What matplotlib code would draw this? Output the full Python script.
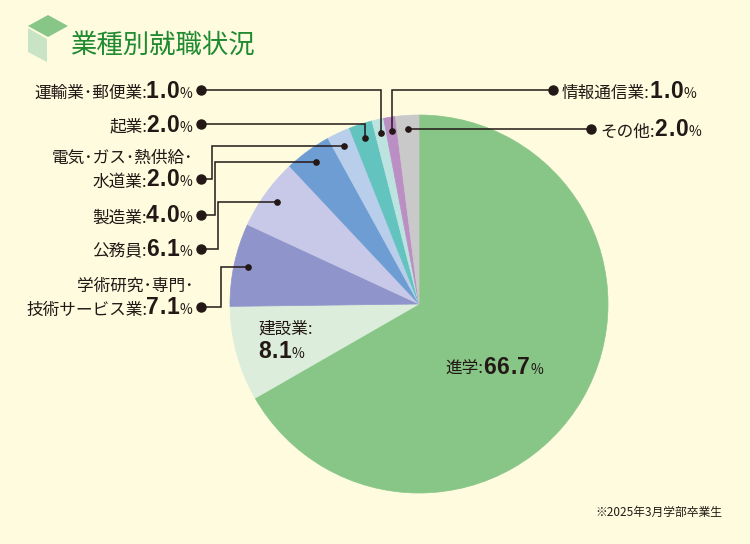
import matplotlib
matplotlib.use("Agg")
import matplotlib.pyplot as plt
from matplotlib.patches import Polygon
import numpy as np

# data
categories = ["進学", "建設業", "学術研究・専門・技術サービス業", "公務員", "製造業",
              "電気・ガス・熱供給・水道業", "起業", "運輸業・郵便業", "情報通信業", "その他"]
values = [66.7, 8.1, 7.1, 6.1, 4.0, 2.0, 2.0, 1.0, 1.0, 2.0]
colors = ["#88C687", "#DCEEDB", "#8F95CB", "#C8C9E8", "#6E9DD4",
          "#B9CEEB", "#63C3BE", "#BDE3E0", "#BB8EC4", "#C9C9C9"]
label_lines = {
    "学術研究・専門・技術サービス業": ["学術研究・専門・", "技術サービス業:"],
    "電気・ガス・熱供給・水道業": ["電気・ガス・熱供給・", "水道業:"],
}
title = "業種別就職状況"
note = "※2025年3月学部卒業生"

W, H = 750, 544
BG = "#FEFBDF"
INK = "#231815"
JP = "Noto Sans CJK JP"
NUM = "Liberation Sans"

name_kw = dict(fontfamily=JP, fontsize=12, color=INK)
num_kw = dict(fontfamily=NUM, fontsize=16.5, fontweight="bold", color=INK)
pct_kw = dict(fontfamily=JP, fontsize=10, color=INK)

fig = plt.figure(figsize=(7.5, 5.44), dpi=100)
fig.patch.set_facecolor(BG)
ax = fig.add_axes([0, 0, 1, 1])
ax.set_facecolor(BG)

cx, cy, R = 419, 304, 189
wedges, _ = ax.pie(values, colors=colors, startangle=90, counterclock=False,
                   radius=R, center=(cx, H - cy))
for w in wedges:
    w.set_edgecolor(w.get_facecolor())
    w.set_linewidth(0.5)

ax.set_xlim(0, W)
ax.set_ylim(0, H)
ax.set_aspect("auto")
ax.axis("off")

renderer = fig.canvas.get_renderer()


def narrow(s):
    # the reference sets the middle dot narrow (half width)
    return s.replace("・", "\uff65")


def put(x, y, s, kw, ha, track=0):
    # draws s and returns its width in px
    if not track:
        t = ax.text(x, H - y, s, ha=ha, va="baseline", **kw)
        return t.get_window_extent(renderer).width
    chars = list(s) if ha == "left" else list(reversed(s))
    cur = x
    for ch in chars:
        t = ax.text(cur, H - y, ch, ha=ha, va="baseline", **kw)
        wd = t.get_window_extent(renderer).width + track
        cur = cur + wd if ha == "left" else cur - wd
    return abs(cur - x) - track


def rich(x, y, parts, ha="right"):
    # gap is added after each part in drawing order
    cur = x
    seq = parts if ha == "left" else list(reversed(parts))
    for s, kw, tr, gaps in seq:
        gap = gaps[0] if ha == "left" else gaps[1]
        wd = put(cur, y, s, kw, ha, tr)
        cur = cur + wd + gap if ha == "left" else cur - wd - gap


def value_parts(name, v):
    return [(narrow(name), name_kw, 0, (0, 0)),
            (f"{v:.1f}", num_kw, 0.8, (0.5, -1.5)),
            ("%", pct_kw, 0, (0, 0))]


def anchor(i, r=175):
    w = wedges[i]
    a = np.deg2rad((w.theta1 + w.theta2) / 2)
    return cx + r * np.cos(a), cy - r * np.sin(a)


# leaders: category -> (label dot x, label dot y, elbow x or None, side)
leaders = {
    "運輸業・郵便業": (201, 90, None, "L"),
    "起業": (201, 124, None, "L"),
    "電気・ガス・熱供給・水道業": (201, 179, 212, "L"),
    "製造業": (201, 215, 215, "L"),
    "公務員": (201, 249, 218, "L"),
    "学術研究・専門・技術サービス業": (201, 307, 221, "L"),
    "情報通信業": (553, 90, None, "R"),
    "その他": (591, 129, None, "R"),
}

for name, (lx, ly, ex, side) in leaders.items():
    i = categories.index(name)
    axx, ayy = anchor(i)
    if ex is None:
        pts = [(lx, ly), (axx, ly), (axx, ayy)]
    else:
        pts = [(lx, ly), (ex, ly), (ex, ayy), (axx, ayy)]
    xs = [p[0] for p in pts]
    ys = [H - p[1] for p in pts]
    ax.plot(xs, ys, color=INK, lw=1.1, solid_joinstyle="miter", zorder=3)
    ax.plot(lx, H - ly, "o", color=INK, ms=6.5, zorder=4)
    ax.plot(axx, H - ayy, "o", color=INK, ms=3.8, zorder=4)

    lines = label_lines.get(name, [name + ":"])
    if side == "L":
        if len(lines) == 2:
            rich(193, ly - 16.5, [(narrow(lines[0]), name_kw, 0, (0, 0))], ha="right")
        rich(192, ly + 7.5, value_parts(lines[-1], values[i]), ha="right")
    else:
        rich(lx + 9, ly + 7.5, value_parts(lines[-1], values[i]), ha="left")

# labels inside the pie
i = categories.index("進学")
rich(445, 374, value_parts("進学:", values[i]), ha="left")
i = categories.index("建設業")
ax.text(258, H - 334, "建設業:", ha="left", va="baseline", **name_kw)
rich(258, 358, value_parts("", values[i])[1:], ha="left")

# title with cube icon
ax.add_patch(Polygon([(28, H - 26), (48, H - 15), (68, H - 26), (48, H - 37)],
                     closed=True, facecolor="#88C687", edgecolor="none"))
ax.add_patch(Polygon([(28, H - 28), (47, H - 39), (47, H - 62), (28, H - 52)],
                     closed=True, facecolor="#C8E4C4", edgecolor="none"))
ax.text(70, H - 45, title, ha="left", va="center", fontfamily=JP,
        fontsize=19, color="#1F8A30")

ax.text(722, H - 512, note, ha="right", va="center", fontfamily=JP,
        fontsize=8.5, color=INK)

fig.savefig("out.png", dpi=100, facecolor=BG)
